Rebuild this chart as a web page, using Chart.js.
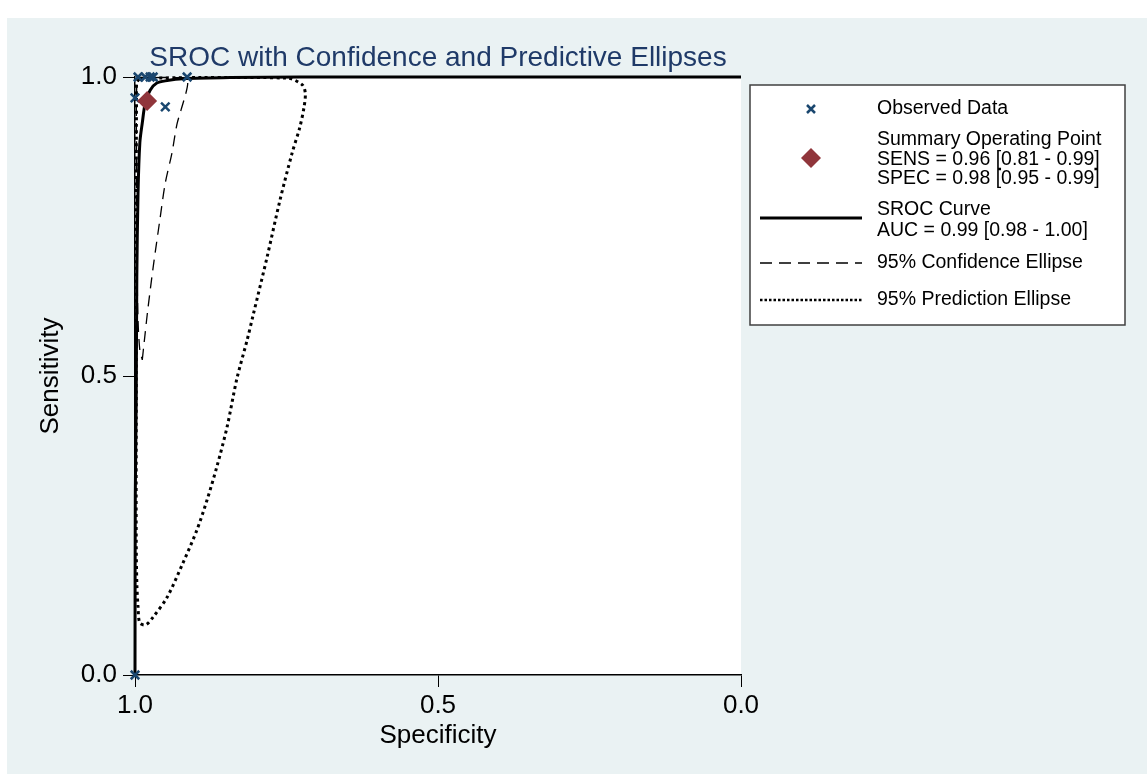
<!DOCTYPE html>
<html lang="en">
<head>
<meta charset="UTF-8">
<title>SROC with Confidence and Predictive Ellipses</title>
<script src="https://cdn.jsdelivr.net/npm/chart.js"></script>
<style>
  html, body { margin: 0; padding: 0; background: #fff; }
  #wrap { width: 1147px; height: 774px; }
</style>
</head>
<body>
<div id="wrap"><canvas id="sroc" width="1147" height="774"></canvas></div>
<script>
// values: x = specificity, y = sensitivity
const axisTicks = [0, 0.5, 1.0];

const observedSpec = [1.0, 0.995, 0.983, 0.975, 0.970, 0.914, 1.0, 0.950];
const observedSens = [0.0, 1.0, 1.0, 1.0, 1.0, 1.0, 0.965, 0.950];

const summarySpec = [0.98];
const summarySens = [0.96];

const srocSpec = [1.0, 0.9995, 0.998, 0.997, 0.995, 0.992, 0.988, 0.983, 0.975, 0.964, 0.947, 0.921, 0.843, 0.728, 0.0];
const srocSens = [0.0, 0.30, 0.46, 0.666, 0.806, 0.89, 0.923, 0.957, 0.978, 0.990, 0.994, 0.997, 0.999, 1.0, 1.0];

const confSpec = [0.988, 0.985, 0.979, 0.970, 0.959, 0.950, 0.939, 0.931, 0.924, 0.916, 0.913, 0.916, 0.934, 0.975, 0.992, 0.997, 0.9975, 0.997, 0.995, 0.992, 0.988];
const confSens = [0.527, 0.555, 0.610, 0.682, 0.761, 0.823, 0.873, 0.920, 0.945, 0.973, 0.990, 0.998, 0.999, 0.999, 0.998, 0.987, 0.878, 0.711, 0.594, 0.543, 0.527];

const predSpec = [0.992, 0.893, 0.748, 0.724, 0.719, 0.721, 0.728, 0.741, 0.761, 0.782, 0.805, 0.815, 0.832, 0.848, 0.865, 0.881, 0.898, 0.921, 0.947, 0.970, 0.982, 0.992, 0.995, 0.997, 0.998, 0.998, 0.998, 0.9975, 0.997, 0.992];
const predSens = [0.998, 0.999, 0.998, 0.987, 0.973, 0.950, 0.916, 0.872, 0.793, 0.699, 0.602, 0.560, 0.495, 0.415, 0.348, 0.293, 0.242, 0.187, 0.130, 0.097, 0.084, 0.087, 0.114, 0.154, 0.226, 0.460, 0.794, 0.962, 0.990, 0.998];

const summaryText = ['Summary Operating Point', 'SENS = 0.96 [0.81 - 0.99]', 'SPEC = 0.98 [0.95 - 0.99]'];
const curveText = ['SROC Curve', 'AUC = 0.99 [0.98 - 1.00]'];

const FONT = '"Liberation Sans", Arial, Helvetica, sans-serif';
const NAVY = '#1a476f';
const MAROON = '#90353b';

function pts(xs, ys) {
    return xs.map((x, i) => ({ x: x, y: ys[i] }));
}

// page background, plot area, title
const backdrop = {
    id: 'backdrop',
    beforeDraw(chart) {
        const ctx = chart.ctx;
        const a = chart.chartArea;
        ctx.save();
        ctx.fillStyle = '#ffffff';
        ctx.fillRect(0, 0, chart.width, chart.height);
        ctx.fillStyle = '#eaf2f3';
        ctx.fillRect(7, 18, chart.width - 7, chart.height - 18);
        ctx.fillStyle = '#ffffff';
        ctx.fillRect(a.left, a.top, a.right - a.left, a.bottom - a.top);
        ctx.fillStyle = '#1f3a68';
        ctx.font = '28px ' + FONT;
        ctx.textAlign = 'center';
        ctx.textBaseline = 'alphabetic';
        ctx.fillText('SROC with Confidence and Predictive Ellipses', (a.left + a.right) / 2, 66);
        ctx.restore();
    }
};

// legend box on the right, drawn by hand (multi-line entries)
const sideLegend = {
    id: 'sideLegend',
    afterDraw(chart) {
        const ctx = chart.ctx;
        ctx.save();
        ctx.fillStyle = '#ffffff';
        ctx.fillRect(750, 85, 375, 240);
        ctx.strokeStyle = '#404040';
        ctx.lineWidth = 1.5;
        ctx.strokeRect(750, 85, 375, 240);

        const mx = 811, tx = 877;
        ctx.font = '19.5px ' + FONT;
        ctx.fillStyle = '#000';
        ctx.textAlign = 'left';
        ctx.textBaseline = 'middle';

        // observed data
        ctx.strokeStyle = NAVY;
        ctx.lineWidth = 2.5;
        ctx.beginPath();
        ctx.moveTo(mx - 4, 105); ctx.lineTo(mx + 4, 113);
        ctx.moveTo(mx + 4, 105); ctx.lineTo(mx - 4, 113);
        ctx.stroke();
        ctx.fillText('Observed Data', tx, 109);

        // summary point
        ctx.fillStyle = MAROON;
        ctx.beginPath();
        ctx.moveTo(mx - 10, 158); ctx.lineTo(mx, 148); ctx.lineTo(mx + 10, 158); ctx.lineTo(mx, 168);
        ctx.closePath();
        ctx.fill();
        ctx.fillStyle = '#000';
        summaryText.forEach((t, i) => ctx.fillText(t, tx, 140 + i * 19.5));

        // sroc curve
        ctx.strokeStyle = '#000';
        ctx.lineWidth = 3;
        ctx.beginPath(); ctx.moveTo(760, 218); ctx.lineTo(862, 218); ctx.stroke();
        curveText.forEach((t, i) => ctx.fillText(t, tx, 210 + i * 21));

        // confidence ellipse
        ctx.lineWidth = 1.3;
        ctx.setLineDash([12, 7]);
        ctx.beginPath(); ctx.moveTo(760, 263); ctx.lineTo(862, 263); ctx.stroke();
        ctx.fillText('95% Confidence Ellipse', tx, 263);

        // prediction ellipse
        ctx.lineWidth = 2.5;
        ctx.setLineDash([2.5, 2]);
        ctx.beginPath(); ctx.moveTo(760, 300); ctx.lineTo(862, 300); ctx.stroke();
        ctx.setLineDash([]);
        ctx.fillText('95% Prediction Ellipse', tx, 300);
        ctx.restore();
    }
};

const ctx = document.getElementById('sroc').getContext('2d');
new Chart(ctx, {
    type: 'scatter',
    data: {
        datasets: [
            {
                label: 'Summary Operating Point',
                data: pts(summarySpec, summarySens),
                pointStyle: 'rectRot',
                pointRadius: 10,
                backgroundColor: MAROON,
                borderColor: MAROON,
                borderWidth: 0,
                order: 0,
                clip: false
            },
            {
                label: 'Observed Data',
                data: pts(observedSpec, observedSens),
                pointStyle: 'crossRot',
                pointRadius: 6,
                borderColor: NAVY,
                borderWidth: 2.5,
                order: 1,
                clip: false
            },
            {
                label: 'SROC Curve',
                data: pts(srocSpec, srocSens),
                showLine: true,
                borderColor: '#000',
                borderWidth: 3,
                pointRadius: 0,
                tension: 0.3,
                order: 2,
                clip: false
            },
            {
                label: '95% Confidence Ellipse',
                data: pts(confSpec, confSens),
                showLine: true,
                borderColor: '#000',
                borderWidth: 1.3,
                borderDash: [11, 7],
                pointRadius: 0,
                tension: 0.3,
                order: 3,
                clip: false
            },
            {
                label: '95% Prediction Ellipse',
                data: pts(predSpec, predSens),
                showLine: true,
                borderColor: '#000',
                borderWidth: 3,
                borderDash: [3, 3.5],
                pointRadius: 0,
                tension: 0.3,
                order: 4,
                clip: false
            }
        ]
    },
    options: {
        responsive: false,
        animation: false,
        devicePixelRatio: 1,
        layout: { padding: { top: 77, right: 406, bottom: 0, left: 0 } },
        plugins: {
            legend: { display: false },
            title: { display: false },
            tooltip: { enabled: false }
        },
        scales: {
            x: {
                type: 'linear',
                reverse: true,
                min: 0,
                max: 1,
                afterFit(scale) { scale.height = 99; },
                afterBuildTicks(scale) { scale.ticks = axisTicks.map(v => ({ value: v })); },
                grid: { drawOnChartArea: false, drawTicks: true, tickLength: 12, color: '#000', lineWidth: 1 },
                border: { display: true, color: '#000', width: 1.5 },
                ticks: {
                    color: '#000',
                    padding: 3,
                    font: { family: FONT, size: 26 },
                    callback: v => v.toFixed(1)
                },
                title: {
                    display: true,
                    text: 'Specificity',
                    color: '#000',
                    font: { family: FONT, size: 26 },
                    padding: { top: 0, bottom: 23 }
                }
            },
            y: {
                type: 'linear',
                min: 0,
                max: 1,
                afterFit(scale) { scale.width = 135; },
                afterBuildTicks(scale) { scale.ticks = axisTicks.map(v => ({ value: v })); },
                grid: { drawOnChartArea: false, drawTicks: true, tickLength: 12, color: '#000', lineWidth: 1 },
                border: { display: true, color: '#000', width: 1.5 },
                ticks: {
                    color: '#000',
                    padding: 6,
                    font: { family: FONT, size: 26 },
                    callback: v => v.toFixed(1)
                },
                title: {
                    display: true,
                    text: 'Sensitivity',
                    color: '#000',
                    font: { family: FONT, size: 26 },
                    padding: { top: 35, bottom: 0 }
                }
            }
        }
    },
    plugins: [backdrop, sideLegend]
});
</script>
</body>
</html>
